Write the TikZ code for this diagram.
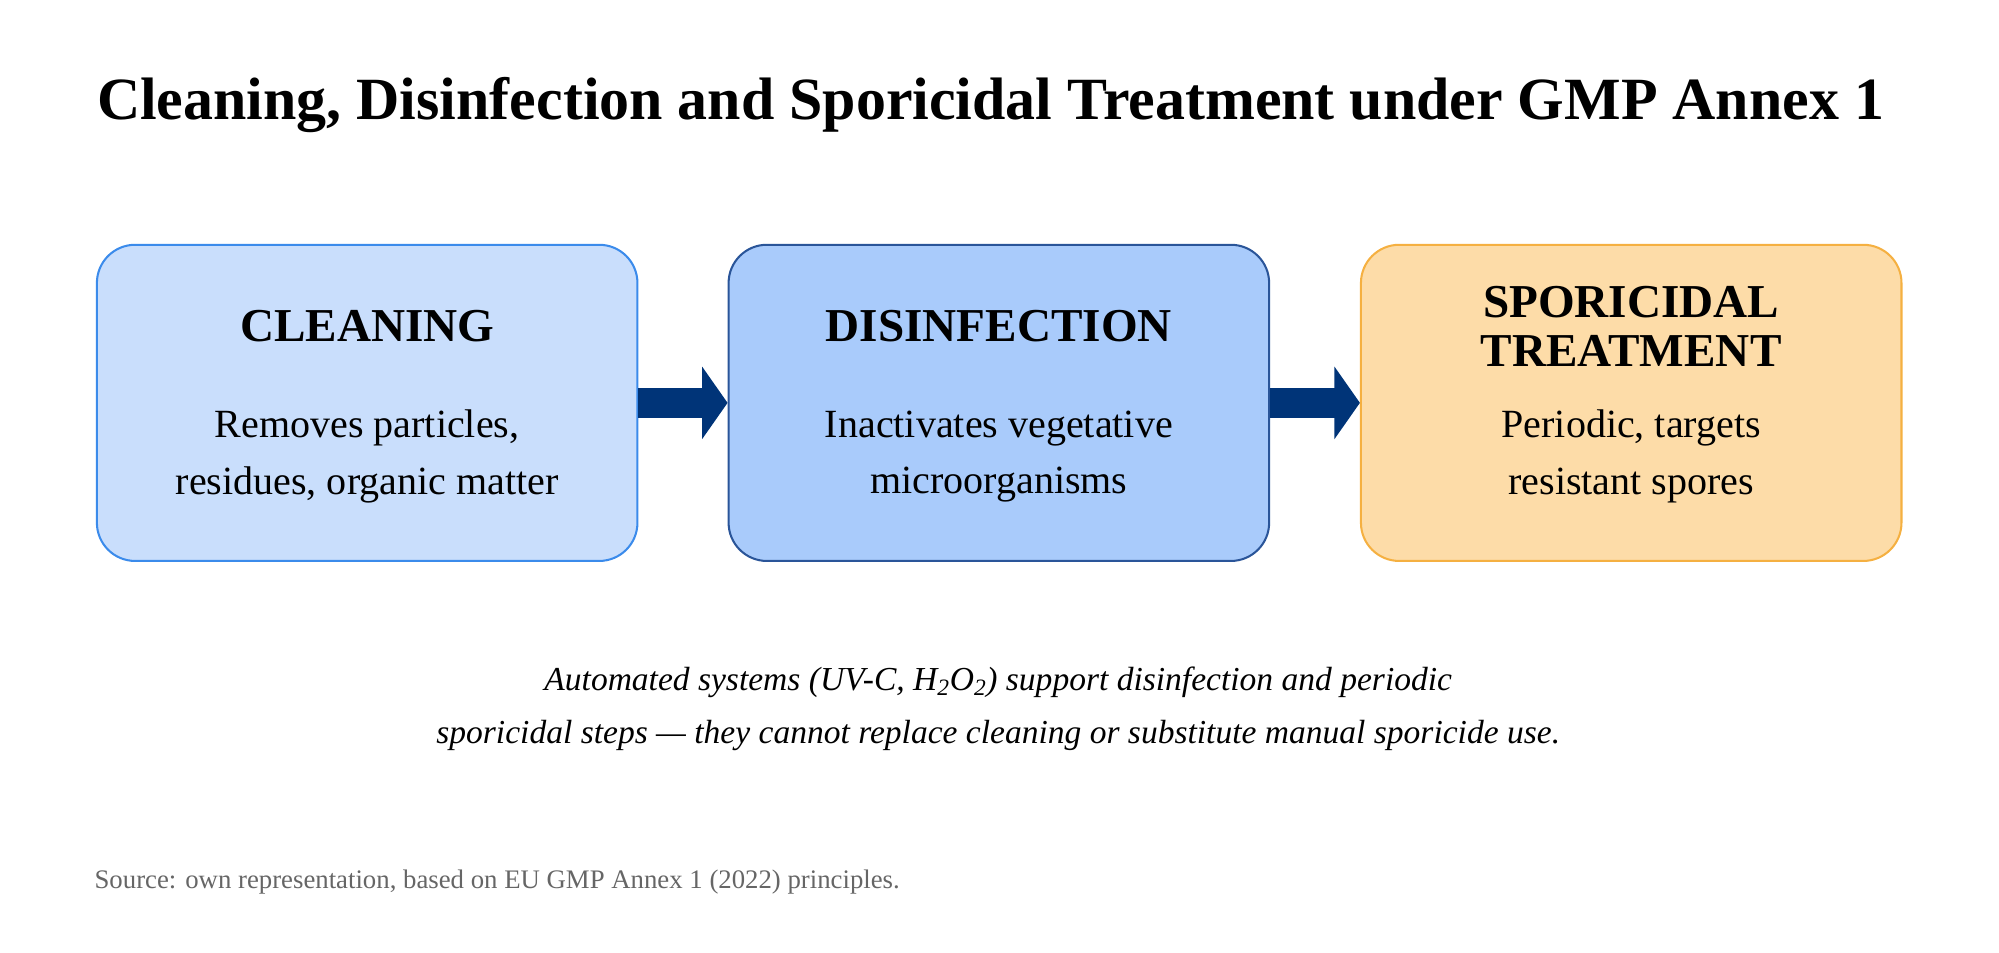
\documentclass[tikz,border=0pt]{standalone}
\usepackage{fontspec}
\setmainfont{Liberation Serif}
\usetikzlibrary{arrows.meta}
\definecolor{cleanfill}{HTML}{C9DEFC}
\definecolor{cleandraw}{HTML}{3B8BEB}
\definecolor{disfill}{HTML}{A9CBFB}
\definecolor{disdraw}{HTML}{2A5599}
\definecolor{sporfill}{HTML}{FDDCA8}
\definecolor{spordraw}{HTML}{F5B041}
\definecolor{flowblue}{HTML}{003478}
\tikzstyle{stage}=[rectangle,rounded corners=30pt,minimum width=424pt,minimum height=248pt,line width=1.6pt]
\tikzstyle{heading}=[align=center,font=\fontsize{37}{39}\selectfont\bfseries]
\tikzstyle{body}=[align=center,font=\fontsize{31.4}{44}\selectfont]
\tikzstyle{flow}=[-{Triangle[length=20pt,width=56pt]},line width=24pt,draw=flowblue]

\begin{document}
\begin{tikzpicture}[x=1pt,y=-1pt]
	\useasboundingbox (0,0) rectangle (1568,747);
	\node [font=\fontsize{47}{52}\selectfont\bfseries] (title) at (777,82) {Cleaning, Disinfection and Sporicidal Treatment under GMP Annex 1};
	\node [style=stage,fill=cleanfill,draw=cleandraw] (clean) at (288,316) {};
	\node [style=stage,fill=disfill,draw=disdraw] (dis) at (783.5,316) {};
	\node [style=stage,fill=sporfill,draw=spordraw] (spor) at (1279.5,316) {};
	\node [style=heading] (cleanhead) at (288,256) {CLEANING};
	\node [style=heading] (dishead) at (783.5,256) {DISINFECTION};
	\node [style=heading] (sporhead) at (1279.5,256) {SPORICIDAL\\TREATMENT};
	\node [style=body] (cleanbody) at (288,358) {Removes particles,\\residues, organic matter};
	\node [style=body] (disbody) at (783.5,358) {Inactivates vegetative\\microorganisms};
	\node [style=body] (sporbody) at (1279.5,358) {Periodic, targets\\resistant spores};
	\draw [style=flow] (clean.east) -- (dis.west);
	\draw [style=flow] (dis.east) -- (spor.west);
	\node [align=center,font=\fontsize{26.3}{42}\selectfont\itshape] (note) at (783,556) {Automated systems (UV-C, H\textsubscript{2}O\textsubscript{2}) support disinfection and periodic\\sporicidal steps — they cannot replace cleaning or substitute manual sporicide use.};
	\node [anchor=west,inner sep=0pt,text=black!60,font=\fontsize{21}{24}\selectfont] (source) at (74,692) {Source: own representation, based on EU GMP Annex 1 (2022) principles.};
\end{tikzpicture}
\end{document}
